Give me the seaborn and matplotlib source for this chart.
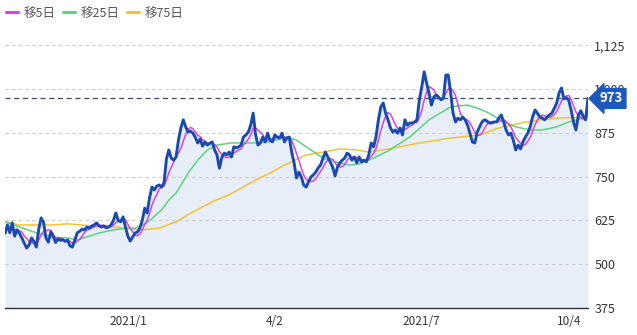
import numpy as np
import pandas as pd
import matplotlib
matplotlib.use("Agg")
import matplotlib.pyplot as plt
import seaborn as sns

# Daily closing prices (trading-day index 0 .. 242)
close = [
    588, 612, 590, 618, 580, 598, 588, 575, 560, 546,
    555, 575, 565, 549, 600, 632, 620, 575, 563, 592,
    580, 562, 572, 568, 570, 565, 569, 552, 549, 569,
    590, 594, 600, 598, 606, 603, 609, 612, 618, 610,
    606, 609, 604, 606, 612, 625, 646, 625, 621, 635,
    606, 580, 566, 578, 589, 592, 603, 626, 660, 646,
    690, 720, 712, 723, 726, 720, 732, 800, 826, 803,
    797, 806, 854, 889, 912, 892, 877, 880, 874, 862,
    846, 857, 837, 849, 840, 845, 849, 826, 812, 774,
    805, 817, 812, 820, 806, 835, 832, 835, 840, 863,
    869, 877, 897, 931, 870, 840, 846, 863, 849, 874,
    854, 849, 869, 863, 860, 874, 849, 860, 863, 820,
    789, 746, 763, 749, 726, 720, 735, 749, 755, 763,
    775, 783, 803, 820, 806, 792, 777, 752, 777, 789,
    797, 803, 817, 812, 797, 806, 789, 806, 792, 797,
    792, 812, 846, 835, 863, 912, 949, 960, 931, 912,
    889, 877, 883, 874, 889, 869, 912, 897, 903, 903,
    906, 912, 969, 1006, 1049, 1017, 989, 954, 977, 983,
    977, 969, 974, 1040, 1040, 989, 931, 906, 917, 912,
    920, 912, 897, 874, 849, 846, 877, 892, 906, 912,
    909, 903, 903, 906, 906, 917, 926, 906, 883, 869,
    874, 854, 826, 840, 829, 849, 863, 874, 892, 920,
    940, 931, 920, 917, 912, 920, 926, 931, 945, 960,
    989, 1003, 972, 975, 968, 940, 905, 883, 925, 938,
    922, 912, 973,
]

# 25-day moving average (sampled positions)
ma25_idx = [0, 6, 12, 19, 26, 30, 34, 39, 45, 51, 54, 59, 65, 68, 71, 76, 80, 84,
            88, 94, 100, 104, 110, 117, 121, 125, 130, 134, 139, 143, 147, 153,
            159, 168, 176, 185, 192, 197, 201, 207, 212, 218, 223, 229, 234, 242]
ma25_val = [621, 606, 592, 578, 575, 569, 578, 589, 598, 603, 603, 618, 655, 683,
            703, 760, 797, 826, 840, 846, 846, 846, 849, 863, 854, 835, 812, 797,
            789, 783, 786, 803, 823, 863, 912, 949, 954, 943, 931, 906, 892, 883,
            883, 892, 906, 920]

# 75-day moving average (sampled positions)
ma75_idx = [0, 6, 19, 26, 32, 39, 46, 53, 57, 64, 71, 78, 86, 93, 98, 104, 110,
            116, 125, 132, 139, 146, 151, 160, 172, 185, 193, 197, 205, 214, 222,
            230, 242]
ma75_val = [621, 612, 612, 615, 612, 606, 606, 600, 598, 603, 621, 649, 678, 698,
            717, 740, 760, 783, 812, 820, 829, 826, 820, 830, 846, 860, 866, 869,
            889, 903, 912, 917, 920]

last_price = 973
tick_pos = [51, 112, 173, 234]
tick_labels = ["2021/1", "4/2", "2021/7", "10/4"]
y_ticks = [375, 500, 625, 750, 875, 1000, 1125]
legend_labels = ["移5日", "移25日", "移75日"]

sns.set_theme(style="white")
plt.rcParams["font.family"] = ["Noto Sans CJK JP", "DejaVu Sans"]

df = pd.DataFrame({"idx": np.arange(len(close)), "close": close})
df["ma5"] = df["close"].rolling(5, min_periods=1).mean()
ma25 = pd.DataFrame({"idx": ma25_idx, "val": ma25_val})
ma75 = pd.DataFrame({"idx": ma75_idx, "val": ma75_val})

fig = plt.figure(figsize=(6.37, 3.35), dpi=100)
ax = fig.add_axes([5 / 637, 1 - 308 / 335, 583 / 637, 278 / 335])

y_lo, y_hi = 375, 375 + 278 * 2.854
ax.set_xlim(0, len(close) - 1)
ax.set_ylim(y_lo, y_hi)

# shaded area under the price
ax.fill_between(df["idx"], df["close"], y_lo, color="#E7EEF8", lw=0, zorder=1)

# horizontal dashed grid
for v in y_ticks[1:]:
    ax.axhline(v, color="#C9CCD1", lw=0.8, ls=(0, (3, 3)), zorder=1.5)

c_ma5, c_ma25, c_ma75 = "#D642E8", "#5ED37C", "#F2C233"
sns.lineplot(data=ma75, x="idx", y="val", ax=ax, color=c_ma75, lw=1.1, zorder=3)
sns.lineplot(data=ma25, x="idx", y="val", ax=ax, color=c_ma25, lw=1.1, zorder=3)
sns.lineplot(data=df, x="idx", y="ma5", ax=ax, color=c_ma5, lw=1.1, zorder=4)
sns.lineplot(data=df, x="idx", y="close", ax=ax, color="#1A4AAE", lw=2.1, zorder=5)

# last price marker line
ax.axhline(last_price, color="#2E4C7E", lw=0.9, ls=(0, (4, 3)), zorder=2)

ax.set_xlabel("")
ax.set_ylabel("")
for s in ["top", "left", "right"]:
    ax.spines[s].set_visible(False)
ax.spines["bottom"].set_color("#333333")
ax.spines["bottom"].set_linewidth(1.0)

ax.yaxis.tick_right()
ax.set_yticks(y_ticks)
ax.set_yticklabels([f"{v:,}" for v in y_ticks])
ax.tick_params(axis="y", length=0, pad=4.5, labelsize=9, labelcolor="#333333")
ax.set_xticks(tick_pos)
ax.set_xticklabels(tick_labels)
ax.tick_params(axis="x", length=0, pad=5, labelsize=8.5, labelcolor="#333333")

# last price tag
ax.annotate(f"{last_price}", xy=(1.0, last_price), xycoords=("axes fraction", "data"),
            xytext=(8.5, 0), textcoords="offset points", ha="left", va="center",
            color="white", fontsize=9.5, fontweight="bold",
            bbox=dict(boxstyle="larrow,pad=0.22", fc="#1C58BE", ec="#1C58BE"),
            zorder=10, annotation_clip=False)

# legend
handles = [plt.Line2D([], [], color=c, lw=2.2) for c in (c_ma5, c_ma25, c_ma75)]
fig.legend(handles, legend_labels, loc="center left", bbox_to_anchor=(0.0, 1 - 13 / 335),
           ncol=3, frameon=False, fontsize=9, handlelength=0.9, handletextpad=0.5,
           columnspacing=0.6, borderpad=0.2, borderaxespad=0.3, labelcolor="#555555")

fig.savefig("out.png", dpi=100)
